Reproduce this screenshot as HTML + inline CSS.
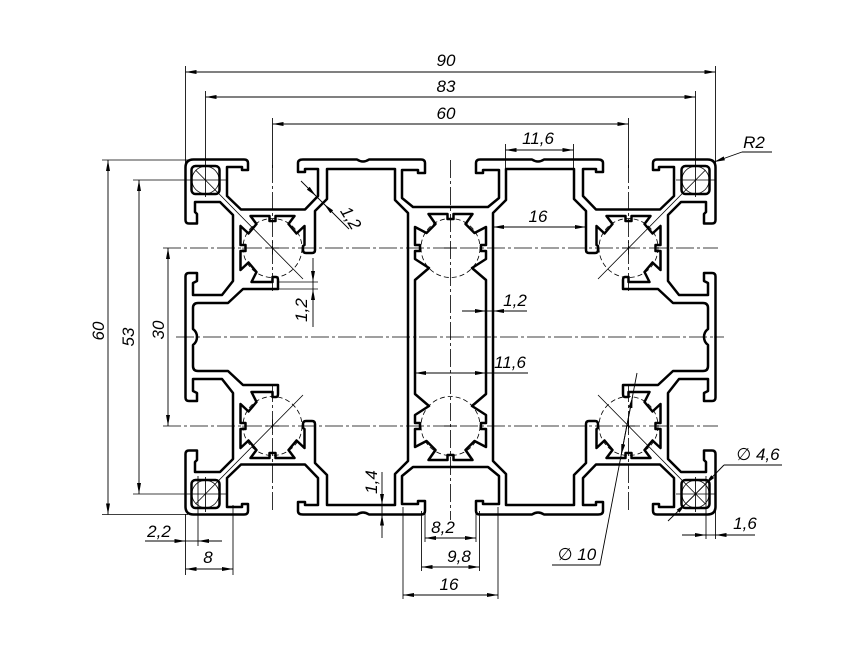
<!DOCTYPE html>
<html>
<head>
<meta charset="utf-8">
<style>
html,body{margin:0;padding:0;background:#fff}
svg{display:block}
text{font-family:"Liberation Sans","DejaVu Sans",sans-serif;font-style:italic;font-size:17px;fill:#000}
</style>
</head>
<body>
<svg width="866" height="650" viewBox="0 0 866 650" xmlns="http://www.w3.org/2000/svg">
<defs>
<marker id="ar" viewBox="0 0 11 4" refX="11" refY="2" markerWidth="11" markerHeight="4" markerUnits="userSpaceOnUse" orient="auto-start-reverse">
<path d="M0,0 L11,2 L0,4 z" fill="#000"/>
</marker>
<g id="q" fill="none" stroke="#000">
 <g stroke-width="2.5" stroke-linejoin="round" stroke-linecap="round">
  <path d="M450.5,207 L413,207 L402,198 L402,170 L418,170 L418,173 L425,173 L425,163 Q425,159.5 421,159.5 L369,159.5 Q363,163.5 357,159.5 L303,159.5 Q298,159.5 298,163 L298,172 L305,172 L305,169 L318,169 L318,196 L305,209.5 L241,209.5 L227,196 L227,167 L242,167 L242,170 L248,170 L248,163 Q248,159.5 244,159.5 L193.5,159.5 Q185.5,159.5 185.5,167.5 L185.5,220 Q185.5,223.5 189,223.5 L197,223.5 L197,214 L195,212 L195,202 L220,202 L233,215 L233,281 L222,295 L193,295 L193,283 L197,281 L197,273 L189,273 Q185.5,273 185.5,276.5 L185.5,337"/>
  <path d="M408,337 L408,213 L395,200 L395,169 L327,169 L327,199 L315,211 L315,250 Q315,253 312,253 L306,253 Q303,253 303,250 L303,246 L304.5,245 L304.5,226 L296.5,233.5 L288.5,224 L294.5,216 L275.5,216 L275.5,221 L269.5,221 L269.5,216 L250.5,216 L256.5,224 L248.5,233.5 L240.5,226 L240.5,245 L245.5,245 L245.5,251 L240.5,251 L240.5,270 L248.5,262.5 L256.5,272 L251.5,282 L272.5,282 L272.5,277 L276,277 Q278,277 278,280 L278,289 L243,289 L228,303 L198,303 Q193,303 193,308 L193,329 Q197,332 197,337"/>
  <rect x="191.5" y="166" width="28" height="28" rx="4"/>
  <path d="M450.5,219 L447.5,219 L447.5,214 L428.5,214 L435.5,224 L426.5,233 L415,227 L415,245 L420,245 L420,251 L415,251 L415,259 L429,268 L415,280 L415,337"/>
 </g>
 <g stroke-width="0.8">
  <circle cx="205.5" cy="180" r="13.6"/>
  <line x1="195.5" y1="170" x2="303" y2="279"/>
  <path d="M266,248h13M272.5,241.5v13M444,248h13"/>
 </g>
</g>
</defs>

<use href="#q"/>
<use href="#q" transform="matrix(-1 0 0 1 901 0)"/>
<use href="#q" transform="matrix(1 0 0 -1 0 674)"/>
<use href="#q" transform="matrix(-1 0 0 -1 901 674)"/>

<g fill="none" stroke="#000" stroke-width="0.8" stroke-dasharray="5 3">
 <circle cx="272.5" cy="248" r="29.5"/>
 <circle cx="450.5" cy="248" r="29.5"/>
 <circle cx="628.5" cy="248" r="29.5"/>
 <circle cx="272.5" cy="426" r="29.5"/>
 <circle cx="450.5" cy="426" r="29.5"/>
 <circle cx="628.5" cy="426" r="29.5"/>
</g>

<g fill="none" stroke="#000" stroke-width="0.8" stroke-dasharray="18 3 3 3">
 <line x1="176" y1="337" x2="724" y2="337"/>
 <line x1="163" y1="248" x2="718" y2="248"/>
 <line x1="163" y1="426" x2="718" y2="426"/>
 <line x1="450.5" y1="160" x2="450.5" y2="520"/>
 <line x1="272.5" y1="165" x2="272.5" y2="292"/>
 <line x1="272.5" y1="384" x2="272.5" y2="512"/>
 <line x1="628.5" y1="165" x2="628.5" y2="292"/>
 <line x1="628.5" y1="384" x2="628.5" y2="512"/>
</g>

<g fill="none" stroke="#000" stroke-width="0.85">
 <line x1="185.5" y1="66" x2="185.5" y2="163"/>
 <line x1="715.5" y1="66" x2="715.5" y2="163"/>
 <line x1="205.5" y1="91" x2="205.5" y2="197"/>
 <line x1="695.5" y1="91" x2="695.5" y2="197"/>
 <line x1="272.5" y1="118" x2="272.5" y2="168"/>
 <line x1="628.5" y1="118" x2="628.5" y2="168"/>
 <line x1="505.5" y1="144" x2="505.5" y2="169"/>
 <line x1="573.5" y1="144" x2="573.5" y2="169"/>
 <line x1="102" y1="160" x2="188" y2="160"/>
 <line x1="102" y1="514.5" x2="188" y2="514.5"/>
 <line x1="133" y1="180" x2="228" y2="180"/>
 <line x1="133" y1="494" x2="228" y2="494"/>
 <line x1="676" y1="180" x2="716" y2="180"/>
 <line x1="676" y1="494" x2="716" y2="494"/>
 <line x1="695.5" y1="477" x2="695.5" y2="512"/>
 <line x1="205.5" y1="477" x2="205.5" y2="512"/>
 <line x1="185.5" y1="514" x2="185.5" y2="575"/>
 <line x1="198" y1="476" x2="198" y2="546"/>
 <line x1="233" y1="505" x2="233" y2="575"/>
 <line x1="278" y1="282" x2="318" y2="282"/>
 <line x1="279" y1="289" x2="318" y2="289"/>
 <line x1="425" y1="505" x2="425" y2="542"/>
 <line x1="476" y1="505" x2="476" y2="542"/>
 <line x1="421.5" y1="511" x2="421.5" y2="571"/>
 <line x1="479.5" y1="511" x2="479.5" y2="571"/>
 <line x1="403" y1="507" x2="403" y2="599"/>
 <line x1="498" y1="507" x2="498" y2="599"/>
 <line x1="706" y1="476" x2="706" y2="539"/>
 <line x1="715.5" y1="470" x2="715.5" y2="539"/>
</g>

<g fill="none" stroke="#000" stroke-width="0.9">
 <line x1="185.5" y1="72" x2="715.5" y2="72" marker-start="url(#ar)" marker-end="url(#ar)"/>
 <line x1="205.5" y1="97" x2="695.5" y2="97" marker-start="url(#ar)" marker-end="url(#ar)"/>
 <line x1="272.5" y1="124" x2="628.5" y2="124" marker-start="url(#ar)" marker-end="url(#ar)"/>
 <line x1="505.5" y1="150" x2="573.5" y2="150" marker-start="url(#ar)" marker-end="url(#ar)"/>
 <line x1="493" y1="227" x2="586" y2="227" marker-start="url(#ar)" marker-end="url(#ar)"/>
 <line x1="415" y1="373" x2="486" y2="373" marker-start="url(#ar)" marker-end="url(#ar)"/>
 <line x1="486" y1="373" x2="528" y2="373"/>
 <line x1="462" y1="311" x2="486" y2="311" marker-end="url(#ar)"/>
 <line x1="527" y1="311" x2="493" y2="311" marker-end="url(#ar)"/>
 <line x1="486" y1="311" x2="493" y2="311"/>
 <line x1="108" y1="160" x2="108" y2="514.5" marker-start="url(#ar)" marker-end="url(#ar)"/>
 <line x1="139" y1="180" x2="139" y2="494" marker-start="url(#ar)" marker-end="url(#ar)"/>
 <line x1="168" y1="248" x2="168" y2="426" marker-start="url(#ar)" marker-end="url(#ar)"/>
 <line x1="145" y1="541" x2="185.5" y2="541" marker-end="url(#ar)"/>
 <line x1="222" y1="541" x2="198" y2="541" marker-end="url(#ar)"/>
 <line x1="185.5" y1="541" x2="198" y2="541"/>
 <line x1="185.5" y1="569" x2="233" y2="569" marker-start="url(#ar)" marker-end="url(#ar)"/>
 <line x1="313" y1="258" x2="313" y2="282" marker-end="url(#ar)"/>
 <line x1="313" y1="327" x2="313" y2="289" marker-end="url(#ar)"/>
 <line x1="313" y1="282" x2="313" y2="289"/>
 <line x1="301" y1="181" x2="316" y2="196" marker-end="url(#ar)"/>
 <line x1="349" y1="229" x2="324" y2="204" marker-end="url(#ar)"/>
 <line x1="316" y1="196" x2="324" y2="204"/>
 <line x1="382" y1="472" x2="382" y2="505" marker-end="url(#ar)"/>
 <line x1="382" y1="538" x2="382" y2="514.5" marker-end="url(#ar)"/>
 <line x1="382" y1="505" x2="382" y2="514.5"/>
 <line x1="425" y1="538" x2="476" y2="538" marker-start="url(#ar)" marker-end="url(#ar)"/>
 <line x1="421.5" y1="567" x2="479.5" y2="567" marker-start="url(#ar)" marker-end="url(#ar)"/>
 <line x1="403" y1="595" x2="498" y2="595" marker-start="url(#ar)" marker-end="url(#ar)"/>
 <line x1="682" y1="535" x2="706" y2="535" marker-end="url(#ar)"/>
 <line x1="755" y1="535" x2="715.5" y2="535" marker-end="url(#ar)"/>
 <line x1="706" y1="535" x2="715.5" y2="535"/>
 <polyline points="772,152 742,152"/>
 <line x1="742" y1="152" x2="714" y2="162" marker-end="url(#ar)"/>
 <polyline points="782,465 724,465"/>
 <line x1="724" y1="465" x2="705" y2="484.5" marker-end="url(#ar)"/>
 <line x1="668" y1="521" x2="686" y2="503.5" marker-end="url(#ar)"/>
 <line x1="705" y1="484.5" x2="686" y2="503.5"/>
 <polyline points="552,565 600,565 637,373"/>
 <line x1="626.8" y1="426" x2="632.5" y2="397" marker-end="url(#ar)"/>
 <line x1="626.8" y1="426" x2="621.2" y2="455" marker-end="url(#ar)"/>
</g>

<g text-anchor="middle">
 <text x="446" y="66">90</text>
 <text x="446" y="92">83</text>
 <text x="446" y="119">60</text>
 <text x="538" y="144">11,6</text>
 <text x="754" y="148">R2</text>
 <text x="538" y="222">16</text>
 <text x="515" y="306">1,2</text>
 <text x="510" y="368">11,6</text>
 <text transform="translate(104,331) rotate(-90)">60</text>
 <text transform="translate(134,337) rotate(-90)">53</text>
 <text transform="translate(164,330) rotate(-90)">30</text>
 <text x="159" y="537">2,2</text>
 <text x="208" y="563">8</text>
 <text transform="translate(307,310) rotate(-90)">1,2</text>
 <text transform="translate(346,221) rotate(58)">1,2</text>
 <text transform="translate(377,482) rotate(-90)">1,4</text>
 <text x="443" y="533">8,2</text>
 <text x="459" y="562">9,8</text>
 <text x="449" y="590">16</text>
 <text x="758" y="460">∅ 4,6</text>
 <text x="745" y="529">1,6</text>
 <text x="577" y="560">∅ 10</text>
</g>
</svg>
</body>
</html>
